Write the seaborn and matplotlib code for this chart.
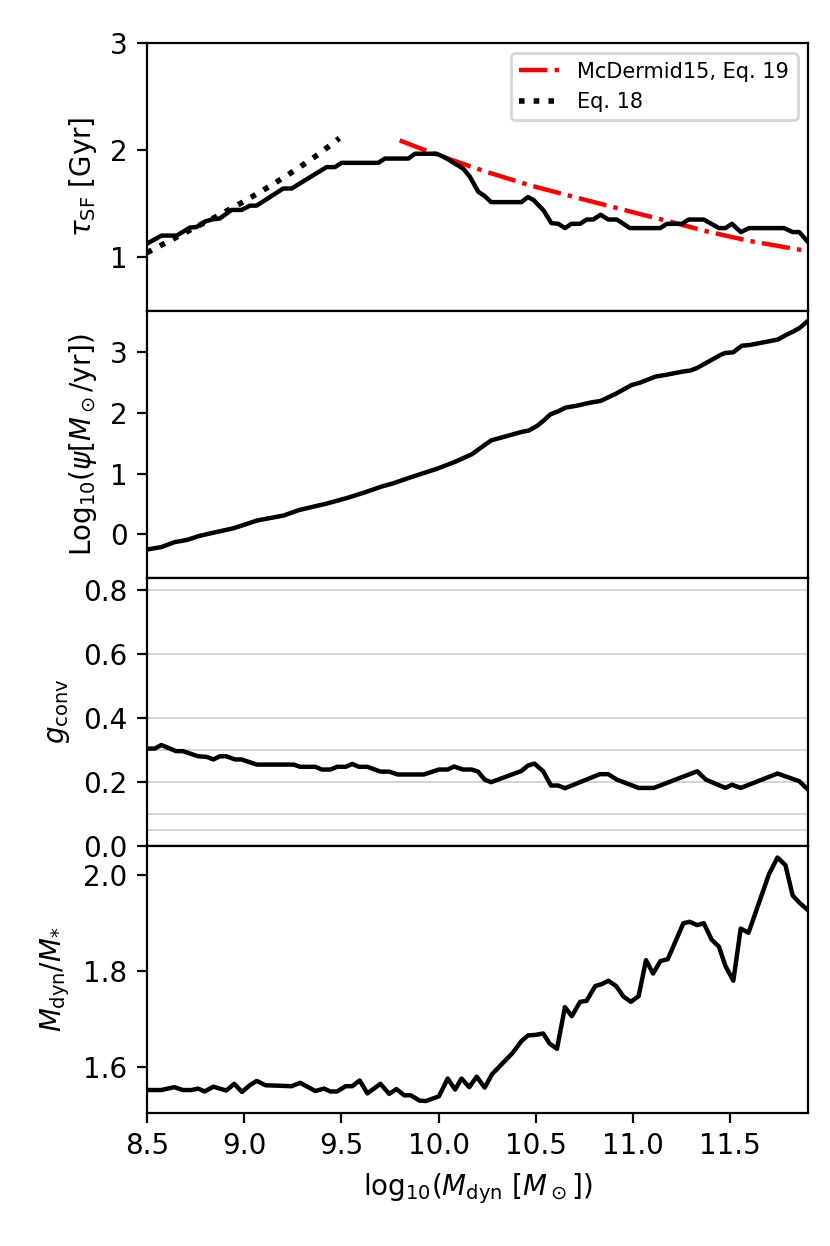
import numpy as np
import pandas as pd
import seaborn as sns
import matplotlib
matplotlib.use('Agg')
import matplotlib.pyplot as plt

# panel 1: star formation timescale
tau_x = [8.50, 8.576, 8.653, 8.721, 8.755, 8.798, 8.832, 8.875, 8.935, 8.987, 9.03, 9.064,
         9.201, 9.244, 9.424, 9.467, 9.501, 9.69, 9.724, 9.844, 9.879, 9.99, 10.033, 10.127,
         10.161, 10.204, 10.237, 10.27, 10.426, 10.46, 10.49, 10.54, 10.58, 10.616, 10.65,
         10.683, 10.728, 10.761, 10.795, 10.833, 10.873, 10.917, 10.984, 11.14, 11.174,
         11.252, 11.286, 11.364, 11.442, 11.475, 11.509, 11.554, 11.598, 11.777, 11.821,
         11.855, 11.9]
tau_y = [1.125, 1.20, 1.20, 1.275, 1.28, 1.33, 1.35, 1.36, 1.44, 1.44, 1.48, 1.48,
         1.64, 1.64, 1.84, 1.84, 1.88, 1.88, 1.92, 1.92, 1.965, 1.965, 1.93, 1.825,
         1.75, 1.61, 1.57, 1.513, 1.513, 1.56, 1.53, 1.435, 1.317, 1.31, 1.27,
         1.31, 1.31, 1.35, 1.35, 1.395, 1.35, 1.35, 1.27, 1.27, 1.31,
         1.31, 1.35, 1.35, 1.27, 1.27, 1.31, 1.233, 1.27, 1.27, 1.233,
         1.233, 1.14]

mcd_x = [9.80, 10.0, 10.24, 10.47, 10.7, 11.04, 11.17, 11.39, 11.6, 11.9]
mcd_y = [2.09, 1.95, 1.80, 1.67, 1.56, 1.40, 1.34, 1.235, 1.15, 1.055]

eq18_x = [8.5, 8.72, 8.86, 9.0, 9.14, 9.27, 9.39, 9.49]
eq18_y = [1.04, 1.25, 1.38, 1.52, 1.67, 1.82, 1.97, 2.11]

# panel 2: log SFR
sfr_x = [8.5, 8.574, 8.641, 8.709, 8.765, 8.832, 8.945, 9.069, 9.203, 9.282, 9.428, 9.53,
         9.619, 9.709, 9.766, 9.856, 9.991, 10.081, 10.171, 10.227, 10.272, 10.351, 10.429,
         10.463, 10.508, 10.542, 10.576, 10.61, 10.654, 10.711, 10.778, 10.834, 10.913,
         10.992, 11.036, 11.115, 11.171, 11.25, 11.294, 11.328, 11.384, 11.452, 11.474,
         11.515, 11.56, 11.598, 11.744, 11.789, 11.822, 11.856, 11.9]
sfr_y = [-0.25, -0.21, -0.13, -0.09, -0.03, 0.02, 0.10, 0.23, 0.31, 0.40, 0.51, 0.60,
         0.69, 0.79, 0.84, 0.94, 1.08, 1.19, 1.32, 1.45, 1.55, 1.62, 1.69,
         1.71, 1.79, 1.88, 1.98, 2.02, 2.09, 2.12, 2.17, 2.20, 2.32,
         2.46, 2.50, 2.60, 2.63, 2.68, 2.70, 2.74, 2.84, 2.96, 2.99,
         3.00, 3.11, 3.12, 3.21, 3.29, 3.34, 3.40, 3.52]

# panel 3: g_conv
g_x = [8.5, 8.54, 8.574, 8.65, 8.685, 8.763, 8.808, 8.842, 8.875, 8.908, 8.953, 8.987,
       9.065, 9.254, 9.288, 9.366, 9.40, 9.444, 9.478, 9.522, 9.556, 9.59, 9.634, 9.701,
       9.746, 9.79, 9.924, 10.002, 10.047, 10.08, 10.125, 10.17, 10.203, 10.237, 10.27,
       10.426, 10.46, 10.493, 10.538, 10.578, 10.616, 10.65, 10.829, 10.873, 10.917,
       11.029, 11.107, 11.33, 11.375, 11.475, 11.509, 11.554, 11.743, 11.855, 11.9]
g_y = [0.303, 0.303, 0.314, 0.295, 0.295, 0.279, 0.277, 0.269, 0.279, 0.279, 0.269, 0.269,
       0.253, 0.253, 0.246, 0.246, 0.2375, 0.2375, 0.246, 0.246, 0.255, 0.246, 0.246, 0.231,
       0.231, 0.222, 0.222, 0.2375, 0.2375, 0.247, 0.2375, 0.2375, 0.231, 0.206, 0.198,
       0.233, 0.25, 0.256, 0.232, 0.1875, 0.1875, 0.179, 0.223, 0.223, 0.206,
       0.18, 0.18, 0.232, 0.206, 0.18, 0.19, 0.18, 0.225, 0.201, 0.175]
g_grid = [0.05, 0.1, 0.2, 0.3, 0.4, 0.6, 0.8]

# panel 4: dynamical to stellar mass ratio
r_x = [8.5, 8.574, 8.641, 8.685, 8.73, 8.763, 8.797, 8.842, 8.908, 8.949, 8.989, 9.029,
       9.065, 9.11, 9.244, 9.288, 9.366, 9.411, 9.444, 9.478, 9.522, 9.556, 9.594, 9.634,
       9.701, 9.746, 9.783, 9.824, 9.857, 9.902, 9.935, 10.002, 10.047, 10.085, 10.118,
       10.158, 10.196, 10.237, 10.275, 10.382, 10.426, 10.46, 10.498, 10.538, 10.571,
       10.609, 10.65, 10.685, 10.728, 10.761, 10.806, 10.84, 10.873, 10.913, 10.951,
       10.989, 11.029, 11.067, 11.103, 11.141, 11.179, 11.259, 11.292, 11.33, 11.364,
       11.404, 11.442, 11.475, 11.516, 11.554, 11.594, 11.699, 11.743, 11.784, 11.821,
       11.855, 11.9]
r_y = [1.552, 1.552, 1.558, 1.552, 1.552, 1.555, 1.549, 1.559, 1.551, 1.565, 1.548, 1.562,
       1.571, 1.562, 1.560, 1.567, 1.550, 1.555, 1.549, 1.549, 1.560, 1.560, 1.572, 1.545,
       1.565, 1.544, 1.554, 1.541, 1.541, 1.530, 1.529, 1.539, 1.576, 1.553, 1.576,
       1.558, 1.580, 1.557, 1.585, 1.630, 1.654, 1.666, 1.667, 1.670, 1.649,
       1.638, 1.725, 1.706, 1.736, 1.738, 1.769, 1.773, 1.780, 1.769, 1.747,
       1.736, 1.748, 1.823, 1.795, 1.821, 1.825, 1.900, 1.903, 1.896, 1.900,
       1.866, 1.851, 1.811, 1.780, 1.889, 1.880, 2.002, 2.037, 2.021, 1.958,
       1.943, 1.927]

x_ticks = [8.5, 9.0, 9.5, 10.0, 10.5, 11.0, 11.5]

fig, axes = plt.subplots(4, 1, sharex=True, figsize=(4.15, 6.23), dpi=200)
fig.subplots_adjust(left=0.177, right=0.9735, top=0.9655, bottom=0.1067, hspace=0)

ax = axes[0]
sns.lineplot(x=mcd_x, y=mcd_y, ax=ax, color='r', linestyle='-.', lw=1.6, label='McDermid15, Eq. 19')
sns.lineplot(x=eq18_x, y=eq18_y, ax=ax, color='k', linestyle=':', lw=2.0, label='Eq. 18')
sns.lineplot(x=tau_x, y=tau_y, ax=ax, color='k', lw=1.6)
ax.set_ylim(0.5, 3)
ax.set_yticks([1, 2, 3])
ax.set_ylabel(r'$\tau_{\rm SF}$ [Gyr]')
ax.legend(loc='upper right', fontsize=7.5)

ax = axes[1]
sns.lineplot(x=sfr_x, y=sfr_y, ax=ax, color='k', lw=1.6)
ax.set_ylim(-0.72, 3.69)
ax.set_yticks([0, 1, 2, 3])
ax.set_ylabel(r'Log$_{10}(\psi[M_\odot/{\rm yr}])$')

ax = axes[2]
for v in g_grid:
    ax.axhline(v, color='0.8', lw=0.6, zorder=0)
sns.lineplot(x=g_x, y=g_y, ax=ax, color='k', lw=1.6)
ax.set_ylim(0, 0.836)
ax.set_yticks([0.0, 0.2, 0.4, 0.6, 0.8])
ax.set_ylabel(r'$g_{\rm conv}$')

ax = axes[3]
sns.lineplot(x=r_x, y=r_y, ax=ax, color='k', lw=1.6)
ax.set_ylim(1.504, 2.062)
ax.set_yticks([1.6, 1.8, 2.0])
ax.set_ylabel(r'$M_{\rm dyn}/M_{*}$')
ax.set_xlabel(r'$\mathrm{log}_{10}(M_{\rm dyn}\ [M_\odot])$')

for ax in axes[:3]:
    ax.tick_params(axis='x', which='both', bottom=False, labelbottom=False)
axes[3].set_xlim(8.5, 11.9)
axes[3].set_xticks(x_ticks)

plt.savefig('out.png', dpi=200)
